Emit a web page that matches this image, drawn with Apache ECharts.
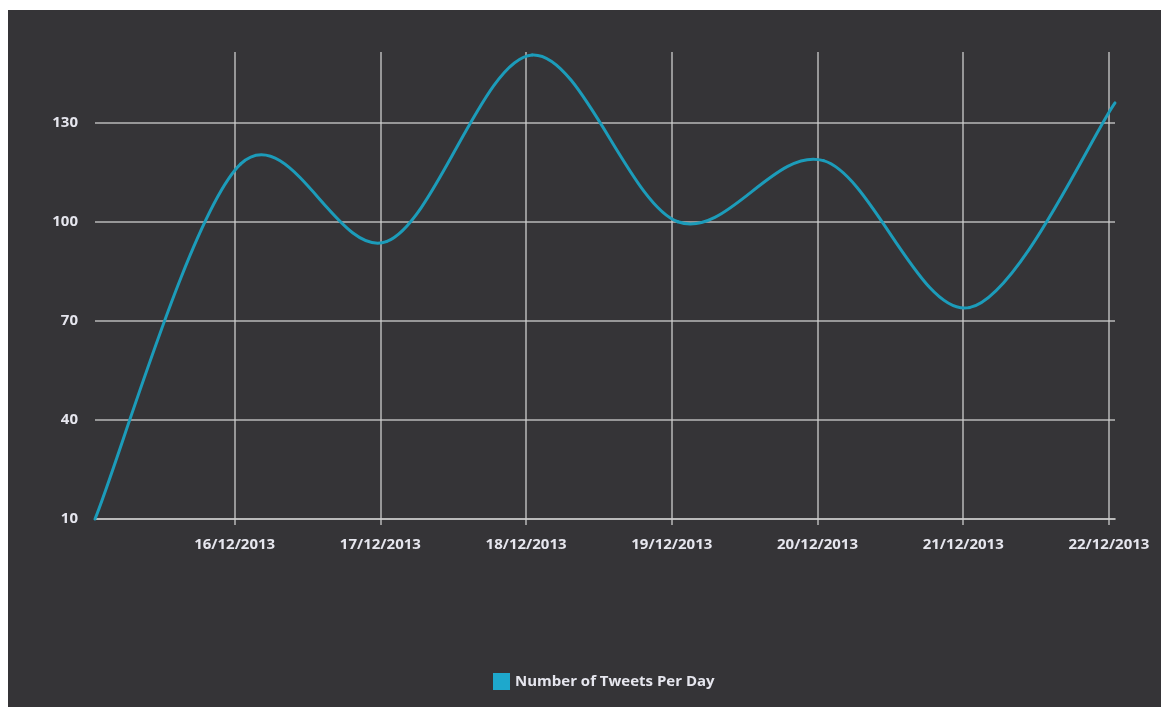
<!DOCTYPE html>
<html>
<head>
<meta charset="utf-8">
<title>Number of Tweets Per Day</title>
<script src="https://cdn.jsdelivr.net/npm/echarts@6/dist/echarts.min.js"></script>
<style>
  html, body { margin: 0; padding: 0; background: #ffffff; }
  #chart { position: absolute; left: 8px; top: 10px; width: 1153px; height: 697px; }
</style>
</head>
<body>
<div id="chart"></div>
<script>
// Daily tweet counts (each sample taken shortly after midnight)
const sampleTimes = [
  '2013-12-15T01:00:00', '2013-12-16T01:00:00', '2013-12-17T01:00:00', '2013-12-18T01:00:00',
  '2013-12-19T01:00:00', '2013-12-20T01:00:00', '2013-12-21T01:00:00', '2013-12-22T01:00:00'
];
const tweetCounts = [10, 117.5, 94, 150.5, 100, 118.5, 74, 136];
const seriesName = 'Number of Tweets Per Day';
const yTicks = { min: 10, max: 151.4, step: 30 };

const gridColor = 'rgba(205,205,205,0.65)';
const labelColor = '#e6e6ee';
const lineColor = '#1c9cba';
const legendColor = '#1ea8cc';

function pad2(n) { return n < 10 ? '0' + n : '' + n; }
function formatDay(v) {
  const d = new Date(v);
  return pad2(d.getDate()) + '/' + pad2(d.getMonth() + 1) + '/' + d.getFullYear();
}

const points = sampleTimes.map((t, i) => [new Date(t).getTime(), tweetCounts[i]]);

// Catmull-Rom spline: each data item draws the cubic segment to the next sample.
function renderSegment(params, api) {
  const i = params.dataIndex;
  const n = points.length;
  if (i >= n - 1) return null;
  const at = k => api.coord(points[Math.max(0, Math.min(n - 1, k))]);
  const p0 = at(i - 1), p1 = at(i), p2 = at(i + 1), p3 = at(i + 2);
  return {
    type: 'bezierCurve',
    shape: {
      x1: p1[0], y1: p1[1],
      x2: p2[0], y2: p2[1],
      cpx1: p1[0] + (p2[0] - p0[0]) / 6, cpy1: p1[1] + (p2[1] - p0[1]) / 6,
      cpx2: p2[0] - (p3[0] - p1[0]) / 6, cpy2: p2[1] - (p3[1] - p1[1]) / 6
    },
    style: { stroke: lineColor, lineWidth: 3, fill: 'none', lineCap: 'round' }
  };
}

const chart = echarts.init(document.getElementById('chart'), null, { renderer: 'canvas' });
chart.setOption({
  backgroundColor: '#353437',
  animation: false,
  grid: { left: 87, right: 46, top: 42, bottom: 188, containLabel: false },
  xAxis: {
    type: 'time',
    min: 'dataMin',
    max: 'dataMax',
    minInterval: 86400000,
    maxInterval: 86400000,
    axisLine: { show: true, lineStyle: { color: gridColor, width: 2 } },
    axisTick: { show: true, length: 6, lineStyle: { color: gridColor, width: 2 } },
    splitLine: { show: true, showMinLine: false, showMaxLine: false, lineStyle: { color: gridColor, width: 2 } },
    axisLabel: {
      show: true,
      showMinLabel: false,
      showMaxLabel: false,
      color: labelColor,
      fontFamily: 'Open Sans',
      fontWeight: 'bold',
      fontSize: 15,
      margin: 18,
      formatter: formatDay
    }
  },
  yAxis: {
    type: 'value',
    min: yTicks.min,
    max: yTicks.max,
    interval: yTicks.step,
    axisLine: { show: false },
    axisTick: { show: false },
    splitLine: { show: true, showMaxLine: false, lineStyle: { color: gridColor, width: 2 } },
    axisLabel: {
      showMaxLabel: false,
      color: labelColor,
      fontFamily: 'Open Sans',
      fontWeight: 'bold',
      fontSize: 15,
      margin: 17
    }
  },
  legend: {
    bottom: 12,
    left: 480,
    icon: 'rect',
    itemWidth: 17,
    itemHeight: 17,
    itemGap: 10,
    textStyle: { color: labelColor, fontFamily: 'Open Sans', fontWeight: 'bold', fontSize: 15 },
    data: [{ name: seriesName, itemStyle: { color: legendColor } }]
  },
  series: [{
    name: seriesName,
    type: 'custom',
    coordinateSystem: 'cartesian2d',
    encode: { x: 0, y: 1 },
    clip: false,
    silent: true,
    itemStyle: { color: legendColor },
    renderItem: renderSegment,
    data: points
  }]
});
</script>
</body>
</html>
